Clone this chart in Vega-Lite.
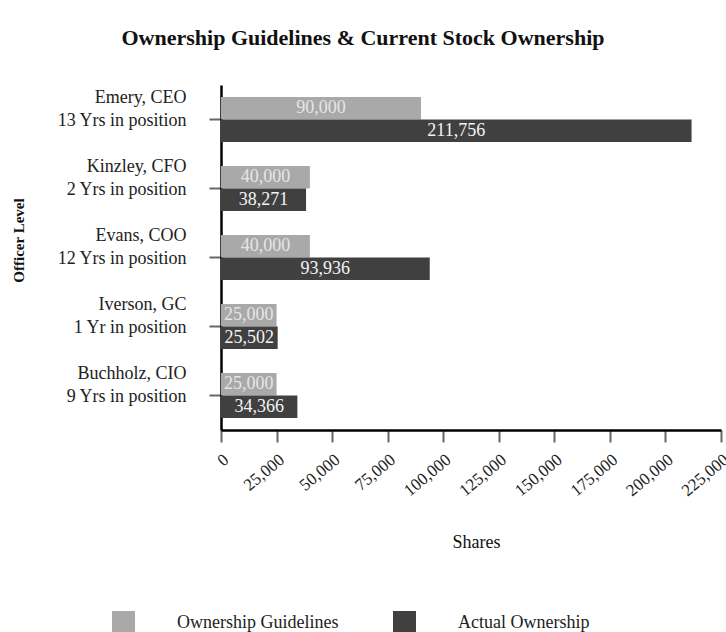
{
  "$schema": "https://vega.github.io/schema/vega-lite/v6.json",
  "width": 500,
  "height": 345,
  "autosize": {"type": "none"},
  "padding": {"left": 221, "top": 85, "right": 5, "bottom": 202},
  "background": "white",
  "title": {
    "text": "Ownership Guidelines & Current Stock Ownership",
    "font": "Liberation Serif",
    "fontSize": 22,
    "fontWeight": "bold",
    "color": "#111111",
    "anchor": "middle",
    "baseline": "middle",
    "offset": 25,
    "dx": -108
  },
  "data": {
    "values": [
      {"officer": "Emery, CEO|13 Yrs in position", "series": "Ownership Guidelines", "value": 90000},
      {"officer": "Emery, CEO|13 Yrs in position", "series": "Actual Ownership", "value": 211756},
      {"officer": "Kinzley, CFO|2 Yrs in position", "series": "Ownership Guidelines", "value": 40000},
      {"officer": "Kinzley, CFO|2 Yrs in position", "series": "Actual Ownership", "value": 38271},
      {"officer": "Evans, COO|12 Yrs in position", "series": "Ownership Guidelines", "value": 40000},
      {"officer": "Evans, COO|12 Yrs in position", "series": "Actual Ownership", "value": 93936},
      {"officer": "Iverson, GC|1 Yr in position", "series": "Ownership Guidelines", "value": 25000},
      {"officer": "Iverson, GC|1 Yr in position", "series": "Actual Ownership", "value": 25502},
      {"officer": "Buchholz, CIO|9 Yrs in position", "series": "Ownership Guidelines", "value": 25000},
      {"officer": "Buchholz, CIO|9 Yrs in position", "series": "Actual Ownership", "value": 34366}
    ]
  },
  "encoding": {
    "y": {
      "field": "officer",
      "type": "nominal",
      "sort": null,
      "scale": {"paddingInner": 0.35, "paddingOuter": 0.175},
      "axis": {
        "title": "Officer Level",
        "titleFont": "Liberation Serif",
        "titleFontSize": 15,
        "titleFontWeight": "bold",
        "titleColor": "#111111",
        "titleAngle": -90,
        "titleAlign": "center",
        "titleBaseline": "middle",
        "titleX": -203,
        "titleY": 155,
        "labelExpr": "split(datum.label, '|')",
        "labelFont": "Liberation Serif",
        "labelFontSize": 18,
        "labelColor": "#222222",
        "labelAlign": "right",
        "labelBaseline": "middle",
        "labelLineHeight": 23,
        "labelOffset": -22,
        "labelPadding": 23,
        "tickSize": 12,
        "tickColor": "#666666",
        "tickWidth": 2,
        "domainColor": "#000000",
        "domainWidth": 2.5
      }
    },
    "yOffset": {
      "field": "series",
      "type": "nominal",
      "sort": ["Ownership Guidelines", "Actual Ownership"],
      "scale": {"paddingInner": 0, "paddingOuter": 0}
    }
  },
  "layer": [
    {
      "mark": {"type": "bar", "cornerRadius": 0},
      "encoding": {
        "x": {
          "field": "value",
          "type": "quantitative",
          "scale": {"domain": [0, 225000], "nice": false},
          "axis": {
            "title": "Shares",
            "titleFont": "Liberation Serif",
            "titleFontSize": 18,
            "titleFontWeight": "normal",
            "titleColor": "#111111",
            "titleBaseline": "middle",
            "titleX": 255,
            "titleY": 112,
            "values": [0, 25000, 50000, 75000, 100000, 125000, 150000, 175000, 200000, 225000],
            "format": ",.0f",
            "labelFont": "Liberation Serif",
            "labelFontSize": 17,
            "labelColor": "#222222",
            "labelAngle": -40,
            "labelAlign": "right",
            "labelBaseline": "top",
            "labelPadding": 9,
            "labelOverlap": false,
            "labelFlush": false,
            "grid": false,
            "tickSize": 12,
            "tickColor": "#666666",
            "tickWidth": 2,
            "domainColor": "#000000",
            "domainWidth": 2.5
          }
        },
        "color": {
          "field": "series",
          "type": "nominal",
          "sort": ["Ownership Guidelines", "Actual Ownership"],
          "scale": {"domain": ["Ownership Guidelines", "Actual Ownership"], "range": ["#a9a9a9", "#404040"]},
          "legend": {
            "title": null,
            "orient": "none",
            "direction": "horizontal",
            "legendX": -109,
            "legendY": 526,
            "padding": 0,
            "symbolType": "square",
            "symbolSize": 529,
            "symbolStrokeWidth": 0,
            "symbolOpacity": 1,
            "labelFont": "Liberation Serif",
            "labelFontSize": 18,
            "labelColor": "#222222",
            "labelLimit": 400,
            "labelOffset": 42,
            "columnPadding": 54
          }
        }
      }
    },
    {
      "mark": {"type": "text", "font": "Liberation Serif", "fontSize": 18, "align": "center", "baseline": "middle"},
      "encoding": {
        "x": {
          "field": "value",
          "type": "quantitative",
          "scale": {"domain": [0, 450000], "nice": false},
          "axis": null
        },
        "text": {"field": "value", "type": "quantitative", "format": ",.0f"},
        "color": {
          "condition": {"test": "datum.series === 'Actual Ownership'", "value": "#f4f4f4"},
          "value": "#e6e6e6"
        }
      }
    }
  ],
  "resolve": {"scale": {"x": "independent"}},
  "config": {
    "view": {"stroke": null},
    "font": "Liberation Serif"
  }
}
